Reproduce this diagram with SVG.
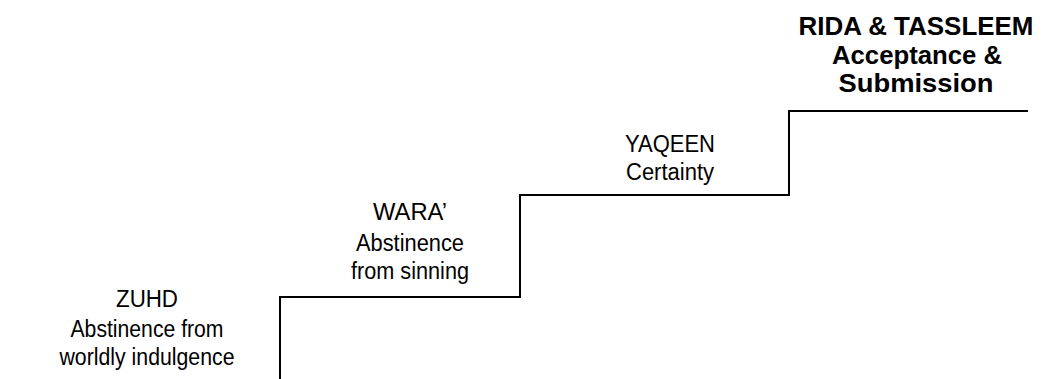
<svg xmlns="http://www.w3.org/2000/svg" width="1047" height="379" viewBox="0 0 1047 379">
<style>
.t{font-family:"Liberation Sans",Arial,sans-serif;font-size:23.5px;fill:#000;text-anchor:middle}
.b{font-family:"Liberation Sans",Arial,sans-serif;font-size:25px;font-weight:bold;fill:#000;text-anchor:middle}
.s{fill:none;stroke:#000;stroke-width:2}
</style>
<rect width="1047" height="379" fill="#fff"/>
<g id="connectors">
<path class="s" d="M280,379 V297 H520 V195 H789 V111 H1028"/>
</g>
<g id="zuhd">
<text class="t" x="147" y="307" textLength="62" lengthAdjust="spacingAndGlyphs">ZUHD</text>
<text class="t" x="147" y="337" textLength="153" lengthAdjust="spacingAndGlyphs">Abstinence from</text>
<text class="t" x="147" y="365" textLength="175" lengthAdjust="spacingAndGlyphs">worldly indulgence</text>
</g>
<g id="wara">
<text class="t" x="410" y="220" textLength="74" lengthAdjust="spacingAndGlyphs">WARA’</text>
<text class="t" x="410" y="251" textLength="108" lengthAdjust="spacingAndGlyphs">Abstinence</text>
<text class="t" x="410" y="279" textLength="118" lengthAdjust="spacingAndGlyphs">from sinning</text>
</g>
<g id="yaqeen">
<text class="t" x="670" y="152" textLength="90" lengthAdjust="spacingAndGlyphs">YAQEEN</text>
<text class="t" x="670" y="180" textLength="88" lengthAdjust="spacingAndGlyphs">Certainty</text>
</g>
<g id="rida">
<text class="b" x="916" y="35" textLength="235" lengthAdjust="spacingAndGlyphs">RIDA &amp; TASSLEEM</text>
<text class="b" x="917" y="64" textLength="170" lengthAdjust="spacingAndGlyphs">Acceptance &amp;</text>
<text class="b" x="916" y="92" textLength="155" lengthAdjust="spacingAndGlyphs">Submission</text>
</g>
</svg>
